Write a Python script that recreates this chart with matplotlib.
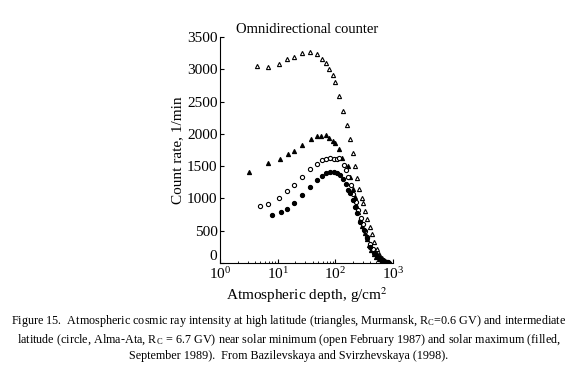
import matplotlib
matplotlib.use("Agg")
import matplotlib.pyplot as plt
from matplotlib.ticker import LogLocator, NullFormatter

plt.rcParams['font.family'] = ['Liberation Serif', 'DejaVu Serif']
plt.rcParams['mathtext.fontset'] = 'stix'

# Open triangles: Murmansk, solar minimum
tri_open_x = [4.35, 6.75, 10.3, 14.4, 18.8, 26, 36.3, 47.3, 57.8, 67.9, 78.7, 89.8, 100, 116, 138, 160, 177, 200,
              220, 238, 261, 287, 302, 330, 360, 395, 430, 470, 520, 580, 650, 730, 820]
tri_open_y = [3056, 3041, 3083, 3160, 3196, 3253, 3264, 3233, 3165, 3098, 3010, 2917, 2799, 2591, 2359, 2142, 1921, 1709,
              1507, 1321, 1146, 1002, 925, 800, 680, 560, 440, 330, 220, 130, 70, 35, 10]
# Filled triangles: Murmansk, solar maximum
tri_fill_x = [3.2, 6.75, 10.7, 15, 18.8, 26, 37.2, 47.3, 57, 68, 78.7, 90, 100, 114, 132, 164, 182,
              200, 215, 232, 250, 270, 295, 320, 350, 385, 420, 460, 510, 570, 640, 720, 800, 860]
tri_fill_y = [1414, 1544, 1611, 1693, 1740, 1833, 1925, 1972, 1972, 1983, 1941, 1885, 1854, 1761, 1622, 1507, 1337,
              1150, 1020, 900, 790, 680, 570, 470, 370, 280, 200, 140, 90, 60, 35, 20, 10, 5]
# Open circles: Alma-Ata, solar minimum
circ_open_x = [4.83, 6.75, 10.6, 14.4, 18.8, 26.3, 36.6, 47.3, 58.6, 68, 79.6, 93, 107, 117, 139, 155, 167,
               185, 205, 225, 250, 275, 300, 330, 360, 400, 440, 490, 540, 600, 670, 750, 830]
circ_open_y = [883, 914, 1012, 1110, 1203, 1332, 1456, 1538, 1596, 1616, 1631, 1616, 1606, 1622, 1518, 1440, 1337,
               1200, 1060, 940, 820, 700, 600, 500, 400, 300, 220, 150, 100, 65, 40, 20, 8]
# Filled circles: Alma-Ata, solar maximum
circ_fill_x = [7.93, 11.2, 14.6, 18.8, 26.3, 36.3, 48, 58.6, 69.7, 81.5, 93, 107, 122, 135, 150, 163, 182,
               205, 220, 238, 270, 310, 355, 405, 460, 520, 565, 630, 700, 780, 850]
circ_fill_y = [739, 785, 842, 925, 1048, 1182, 1281, 1343, 1389, 1410, 1414, 1399, 1363, 1296, 1219, 1131, 1080,
               976, 872, 770, 640, 511, 383, 253, 150, 100, 73, 50, 36, 18, 5]

fig = plt.figure(figsize=(5.78, 3.81), dpi=100)
ax = fig.add_axes([0.381, 0.310, 0.299, 0.593])

ms = 3.0
ax.plot(tri_open_x, tri_open_y, linestyle='none', marker='^', ms=ms, mfc='white', mec='black', mew=0.8)
ax.plot(tri_fill_x, tri_fill_y, linestyle='none', marker='^', ms=ms, mfc='black', mec='black', mew=0.8)
ax.plot(circ_open_x, circ_open_y, linestyle='none', marker='o', ms=ms, mfc='white', mec='black', mew=0.8)
ax.plot(circ_fill_x, circ_fill_y, linestyle='none', marker='o', ms=ms, mfc='black', mec='black', mew=0.8)

ax.set_xscale('log')
ax.set_xlim(1, 1000)
ax.set_ylim(0, 3500)
ax.set_yticks(range(0, 3501, 500))
ax.xaxis.set_major_locator(LogLocator(base=10, numticks=10))
ax.xaxis.set_minor_locator(LogLocator(base=10, subs=range(2, 10), numticks=20))
ax.xaxis.set_minor_formatter(NullFormatter())
ax.tick_params(direction='in', length=3, width=0.8, labelsize=11, pad=2)
ax.tick_params(which='minor', direction='in', length=1.5, width=0.6)
ax.spines['top'].set_visible(False)
ax.spines['right'].set_visible(False)

fig.canvas.draw()
ylabels = ax.get_yticklabels()
ylabels[0].set_verticalalignment('bottom')

ax.set_ylabel('Count rate, 1/min', fontsize=11, labelpad=2)
ax.set_xlabel('Atmospheric depth, g/cm$^2$', fontsize=11, labelpad=3)
ax.text(0.5, 1.005, 'Omnidirectional counter', transform=ax.transAxes, ha='center', va='bottom', fontsize=10.5)

caption = ("Figure 15.  Atmospheric cosmic ray intensity at high latitude (triangles, Murmansk, R$_\\mathregular{C}$=0.6 GV) and intermediate\n"
           "latitude (circle, Alma-Ata, R$_\\mathregular{C}$ = 6.7 GV) near solar minimum (open February 1987) and solar maximum (filled,\n"
           "September 1989).  From Bazilevskaya and Svirzhevskaya (1998).")
fig.text(0.5, 0.113, caption, ha='center', va='center', fontsize=8.7, linespacing=1.25)

fig.savefig('out.png', dpi=100)
